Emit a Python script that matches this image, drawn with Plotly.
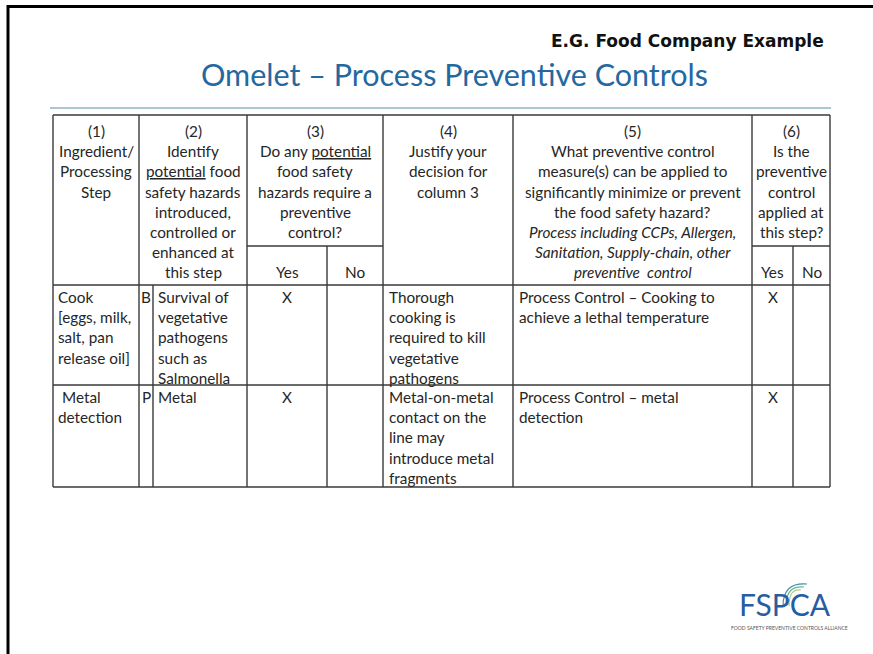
import plotly.graph_objects as go

W, H = 873, 654

# ---------------- data ----------------
slide_tag = "E.G. Food Company Example"
title_text = "Omelet – Process Preventive Controls"

U = '<span style="text-decoration:underline">potential</span>'
header_col1 = ["(1)", "Ingredient/", "Processing", "Step"]
header_col2 = ["(2)", "Identify", U + " food", "safety hazards", "introduced,",
               "controlled or", "enhanced at", "this step"]
header_col3 = ["(3)", "Do any " + U, "food safety", "hazards require a",
               "preventive", "control?"]
header_col4 = ["(4)", "Justify your", "decision for", "column 3"]
header_col5 = ["(5)", "What preventive control", "measure(s) can be applied to",
               "significantly minimize or prevent", "the food safety hazard?",
               "<i>Process including CCPs, Allergen,</i>",
               "<i>Sanitation, Supply-chain, other</i>",
               "<i>preventive  control</i>"]
header_col6 = ["(6)", "Is the", "preventive", "control", "applied at", "this step?"]
yes_no = ["Yes", "No"]

steps = [["Cook", "[eggs, milk,", "salt, pan", "release oil]"],
         [" Metal", "detection"]]
hazard_type = ["B", "P"]
hazards = [["Survival of", "vegetative", "pathogens", "such as", "Salmonella"],
           ["Metal"]]
needs_pc = ["Yes", "Yes"]
justify = [["Thorough", "cooking is", "required to kill", "vegetative", "pathogens"],
           ["Metal-on-metal", "contact on the", "line may", "introduce metal", "fragments"]]
controls = [["Process Control – Cooking to", "achieve a lethal temperature"],
            ["Process Control – metal", "detection"]]
applied = ["Yes", "Yes"]

# ---------------- layout geometry ----------------
col_x = [53, 139, 153, 247, 327, 383, 513, 752, 793, 830]
tbl_top, sub_y, head_bot, row_div, tbl_bot = 115, 246, 285, 385, 487
LS = 20.2
FONT = "Lato"
FS = 15.3
TXT = "#262626"
LINE = "#3a3a3a"

fig = go.Figure()
shapes = []
ann = []


def hline(y, x0, x1, color=LINE, w=1.4):
    shapes.append(dict(type="line", x0=x0, x1=x1, y0=y, y1=y,
                       line=dict(color=color, width=w), xref="x", yref="y"))


def vline(x, y0, y1, color=LINE, w=1.4):
    shapes.append(dict(type="line", x0=x, x1=x, y0=y0, y1=y1,
                       line=dict(color=color, width=w), xref="x", yref="y"))


def lines(text_lines, x, y0, align="center", size=FS, color=TXT):
    anchor = {"center": "center", "left": "left"}[align]
    for i, t in enumerate(text_lines):
        ann.append(dict(x=x, y=y0 + i * LS, text=t, showarrow=False,
                        xanchor=anchor, yanchor="middle", xref="x", yref="y",
                        font=dict(family=FONT, size=size, color=color)))


# frame
shapes.append(dict(type="line", x0=8, x1=W + 5, y0=6.5, y1=6.5,
                   line=dict(color="black", width=3), xref="x", yref="y"))
shapes.append(dict(type="line", x0=8, x1=8, y0=5, y1=H + 5,
                   line=dict(color="black", width=3), xref="x", yref="y"))
# separator under title
hline(108, 50, 831, color="#8fb2cc", w=1.6)

# table grid
hline(tbl_top, col_x[0], col_x[-1])
hline(head_bot, col_x[0], col_x[-1])
hline(row_div, col_x[0], col_x[-1])
hline(tbl_bot, col_x[0], col_x[-1])
hline(sub_y, col_x[3], col_x[5])
hline(sub_y, col_x[7], col_x[9])
for i in [0, 1, 3, 5, 6, 7, 9]:
    vline(col_x[i], tbl_top, tbl_bot)
vline(col_x[2], head_bot, tbl_bot)
vline(col_x[4], sub_y, tbl_bot)
vline(col_x[8], sub_y, tbl_bot)

# header text
hy = 131
lines(header_col1, (col_x[0] + col_x[1]) / 2, hy)
lines(header_col2, (col_x[1] + col_x[3]) / 2, hy)
lines(header_col3, (col_x[3] + col_x[5]) / 2, hy)
lines(header_col4, (col_x[5] + col_x[6]) / 2, hy)
lines(header_col5, (col_x[6] + col_x[7]) / 2, hy)
lines(header_col6, (col_x[7] + col_x[9]) / 2, hy)
lines([yes_no[0]], (col_x[3] + col_x[4]) / 2, 272)
lines([yes_no[1]], (col_x[4] + col_x[5]) / 2, 272)
lines([yes_no[0]], (col_x[7] + col_x[8]) / 2, 272)
lines([yes_no[1]], (col_x[8] + col_x[9]) / 2, 272)

# body rows
row_y = [297, 397]
for r in range(2):
    y = row_y[r]
    lines(steps[r], col_x[0] + 3, y, align="left")
    lines([hazard_type[r]], (col_x[1] + col_x[2]) / 2, y)
    lines(hazards[r], col_x[2] + 3, y, align="left")
    xc = (col_x[3] + col_x[4]) / 2 if needs_pc[r] == "Yes" else (col_x[4] + col_x[5]) / 2
    lines(["X"], xc, y)
    lines(justify[r], col_x[5] + 4, y, align="left")
    lines(controls[r], col_x[6] + 4, y, align="left")
    xc = (col_x[7] + col_x[8]) / 2 if applied[r] == "Yes" else (col_x[8] + col_x[9]) / 2
    lines(["X"], xc, y)

# titles
ann.append(dict(x=826, y=41, text="<b>" + slide_tag + "</b>", showarrow=False,
                xanchor="right", yanchor="middle", xref="x", yref="y",
                font=dict(family="DejaVu Sans", size=17, color="#111111")))
ann.append(dict(x=454, y=74, text=title_text, showarrow=False,
                xanchor="center", yanchor="middle", xref="x", yref="y",
                font=dict(family=FONT, size=30.5, color="#2468a0")))

# logo
ann.append(dict(x=785, y=604, text="FSP<span style='color:#1f5fa6'>C</span>A",
                showarrow=False, xanchor="center", yanchor="middle",
                xref="x", yref="y",
                font=dict(family="Lato", size=30, color="#2a5d9f")))
ann.append(dict(x=789, y=628, text="FOOD SAFETY PREVENTIVE CONTROLS ALLIANCE",
                showarrow=False, xanchor="center", yanchor="middle",
                xref="x", yref="y",
                font=dict(family="Lato", size=5, color="#555555")))
for k, c in enumerate(["#a8d08d", "#6fb38a", "#3d8fb0"]):
    r = 6 + k * 3
    shapes.append(dict(type="path",
                       path=f"M {795 - r} {606} Q {795 - r} {600 - r - 6} {795 + r} {600 - r - 4}",
                       line=dict(color=c, width=1.2), xref="x", yref="y"))

fig.update_layout(
    width=W, height=H, margin=dict(l=0, r=0, t=0, b=0),
    paper_bgcolor="white", plot_bgcolor="white",
    xaxis=dict(range=[0, W], visible=False, fixedrange=True),
    yaxis=dict(range=[H, 0], visible=False, fixedrange=True),
    shapes=shapes, annotations=ann, showlegend=False,
)
fig.write_html("out.html", post_script="document.body.style.margin='0px';",
               config={"displayModeBar": False})
